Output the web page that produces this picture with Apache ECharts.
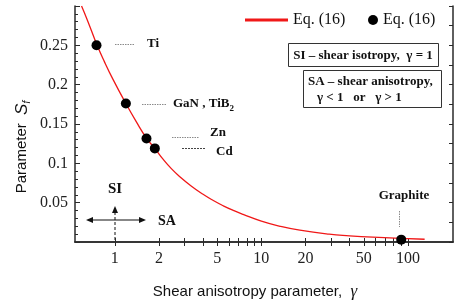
<!DOCTYPE html>
<html>
<head>
<meta charset="utf-8">
<script src="https://cdn.jsdelivr.net/npm/echarts@6/dist/echarts.min.js"></script>
<style>
html,body{margin:0;padding:0;background:#fff;}
#c{width:462px;height:307px;}
</style>
</head>
<body>
<div id="c"></div>
<script>
// Eq. (16) curve
const curveGamma = [0.593, 0.65, 0.75, 0.85, 0.97, 1.19, 1.4, 1.645, 1.875, 2.14, 2.44, 2.78, 3.3, 4.0, 4.7, 5.5, 6.5, 7.5, 10, 13.4, 18.3, 29, 40, 57.6, 90, 130];
const curveSf    = [0.300, 0.282, 0.252, 0.229, 0.207, 0.176, 0.153, 0.132, 0.119, 0.105, 0.093, 0.083, 0.0716, 0.0606, 0.0527, 0.046, 0.0398, 0.0351, 0.0265, 0.0200, 0.0150, 0.0100, 0.0079, 0.0061, 0.0045, 0.0035];
// Eq. (16) points (Ti, GaN/TiB2, Zn, Cd, Graphite)
const pointNames = ['Ti', 'GaN , TiB2', 'Zn', 'Cd', 'Graphite'];
const pointGamma = [0.75, 1.19, 1.645, 1.875, 90];
const pointSf    = [0.25, 0.176, 0.1316, 0.119, 0.003];
// tick labels
const xTickLabels = [1, 2, 5, 10, 20, 50, 100];
const xMinorTicks = [1, 2, 3, 4, 5, 6, 7, 8, 9, 10, 20, 30, 40, 50, 60, 70, 80, 90, 100];
const yTickLabels = [0.05, 0.1, 0.15, 0.2, 0.25];

const serif = '"Liberation Serif", "DejaVu Serif", serif';
const sans = '"Liberation Sans", Arial, sans-serif';
const frameColor = '#2a2a2a';

const chart = echarts.init(document.getElementById('c'), null, {renderer: 'canvas'});

const curveData = curveGamma.map((g, i) => [g, curveSf[i]]);
const pointData = pointGamma.map((g, i) => ({name: pointNames[i], value: [g, pointSf[i]]}));

function leader(x1, y1, x2, y2, dash, color) {
  return {type: 'line', silent: true, z: 50,
    shape: {x1, y1, x2, y2},
    style: {stroke: color || '#8a8a8a', lineWidth: 1, lineDash: dash || [1.5, 1]}};
}
function label(text, x, y, size, align) {
  return {type: 'text', silent: true, z: 50, x, y,
    style: {text, fill: '#111', font: 'bold ' + (size || 13) + 'px ' + serif,
      align: align || 'left', verticalAlign: 'middle'}};
}

const option = {
  animation: false,
  backgroundColor: '#fff',
  grid: {left: 75, right: 9, top: 6, bottom: 65, containLabel: false},
  legend: [
    {data: [{name: 'curve', icon: 'rect'}], left: 240, top: 7, itemWidth: 43, itemHeight: 3, itemGap: 0,
      formatter: () => 'Eq. (16)', selectedMode: false,
      textStyle: {fontFamily: serif, fontSize: 16, color: '#111'}},
    {data: [{name: 'points', icon: 'circle'}], left: 363, top: 7, itemWidth: 10, itemHeight: 10,
      formatter: () => 'Eq. (16)', selectedMode: false,
      itemStyle: {opacity: 1, color: '#000'},
      textStyle: {fontFamily: serif, fontSize: 16, color: '#111'}}
  ],
  xAxis: [
    {type: 'log', logBase: 10, min: 0.535, max: 203, position: 'bottom',
      axisLine: {show: true, lineStyle: {color: frameColor, width: 1.5}},
      axisTick: {show: true, inside: true, length: 4, customValues: xMinorTicks,
        lineStyle: {color: frameColor, width: 1}},
      axisLabel: {show: true, customValues: xTickLabels, margin: 9,
        fontFamily: serif, fontSize: 16, color: '#222'},
      splitLine: {show: false}, minorTick: {show: false}},
    {type: 'log', logBase: 10, min: 0.535, max: 203, position: 'top',
      axisLine: {show: true, lineStyle: {color: frameColor, width: 1.5}},
      axisTick: {show: true, inside: true, length: 4, customValues: xMinorTicks,
        lineStyle: {color: frameColor, width: 1}},
      axisLabel: {show: false, customValues: xTickLabels}, splitLine: {show: false}}
  ],
  yAxis: [
    {type: 'value', min: 0, max: 0.3, interval: 0.05, position: 'left',
      axisLine: {show: true, lineStyle: {color: frameColor, width: 1.5}},
      axisTick: {show: true, inside: true, length: 5, lineStyle: {color: frameColor}},
      minorTick: {show: true, splitNumber: 5, length: 3, lineStyle: {color: frameColor}},
      axisLabel: {margin: 7, fontFamily: serif, fontSize: 16, color: '#222',
        formatter: v => (yTickLabels.some(t => Math.abs(t - v) < 1e-9) ? String(+v.toFixed(2)) : '')},
      splitLine: {show: false}},
    {type: 'value', min: 0, max: 0.3, interval: 0.025, position: 'right',
      axisLine: {show: true, lineStyle: {color: frameColor, width: 1.5}},
      axisTick: {show: true, inside: true, length: 4, lineStyle: {color: frameColor}},
      axisLabel: {show: false}, splitLine: {show: false}}
  ],
  series: [
    {name: 'curve', type: 'line', data: curveData, smooth: true, symbol: 'none',
      lineStyle: {color: '#f01818', width: 1.3}, itemStyle: {color: '#f01818'},
      z: 3},
    {name: 'points', type: 'scatter', data: pointData, symbol: 'circle', symbolSize: 10,
      itemStyle: {color: '#000', opacity: 1}, z: 4},
    {name: 'topAxisHelper', type: 'line', xAxisIndex: 1, yAxisIndex: 1, data: [], silent: true}
  ],
  graphic: [
    // axis titles
    {type: 'text', silent: true, x: 255, y: 292, style: {
      text: '{a|Shear anisotropy parameter,  }{g|γ}', align: 'center', verticalAlign: 'middle',
      rich: {a: {fontFamily: sans, fontSize: 15, fill: '#111'},
             g: {fontFamily: serif, fontStyle: 'italic', fontSize: 17, fill: '#111'}}}},
    {type: 'text', silent: true, x: 22, y: 147, rotation: Math.PI / 2, style: {
      text: '{a|Parameter  }{s|S}{f|f}', align: 'center', verticalAlign: 'middle',
      rich: {a: {fontFamily: sans, fontSize: 15, fill: '#111', lineHeight: 20},
             s: {fontFamily: sans, fontStyle: 'italic', fontSize: 17, fill: '#111', lineHeight: 20},
             f: {fontFamily: sans, fontStyle: 'italic', fontSize: 10, fill: '#111', verticalAlign: 'bottom', lineHeight: 20}}}},
    // point annotations
    leader(115, 44.5, 135, 44.5),
    label('Ti', 147, 44),
    leader(142, 104.5, 166, 104.5),
    {type: 'text', silent: true, z: 50, x: 173, y: 104, style: {
      text: '{a|GaN , TiB}{b|2}', align: 'left', verticalAlign: 'middle',
      rich: {a: {font: 'bold 13px ' + serif, fill: '#111', lineHeight: 18},
             b: {font: 'bold 9px ' + serif, fill: '#111', verticalAlign: 'bottom', lineHeight: 18}}}},
    leader(172, 137.5, 199, 137.5),
    label('Zn', 210, 133),
    leader(182, 148.5, 205, 148.5, [2, 1], '#444'),
    label('Cd', 216, 152),
    label('Graphite', 404, 196, 13, 'center'),
    leader(399.5, 211, 399.5, 227),
    // SI / SA indicator
    label('SI', 115, 189, 15, 'center'),
    label('SA', 158, 221, 14, 'left'),
    {type: 'line', silent: true, shape: {x1: 91, y1: 220, x2: 141, y2: 220},
      style: {stroke: '#111', lineWidth: 1.2}},
    {type: 'polygon', silent: true, shape: {points: [[86, 220], [93, 217], [93, 223]]}, style: {fill: '#111'}},
    {type: 'polygon', silent: true, shape: {points: [[146, 220], [139, 217], [139, 223]]}, style: {fill: '#111'}},
    {type: 'line', silent: true, shape: {x1: 115, y1: 240, x2: 115, y2: 211},
      style: {stroke: '#111', lineWidth: 1, lineDash: [3, 2]}},
    {type: 'polygon', silent: true, shape: {points: [[115, 206], [112, 213], [118, 213]]}, style: {fill: '#111'}},
    // boxes
    {type: 'rect', silent: true, z: 40, shape: {x: 288.5, y: 43.5, width: 150, height: 23},
      style: {fill: '#fff', stroke: '#333', lineWidth: 1}},
    {type: 'text', silent: true, z: 41, x: 363, y: 55.5, style: {
      text: 'SI – shear isotropy,  γ = 1', align: 'center', verticalAlign: 'middle',
      font: 'bold 13px ' + serif, fill: '#111'}},
    {type: 'rect', silent: true, z: 40, shape: {x: 303.5, y: 70.5, width: 138, height: 37},
      style: {fill: '#fff', stroke: '#333', lineWidth: 1}},
    {type: 'text', silent: true, z: 41, x: 308, y: 81.5, style: {
      text: 'SA – shear anisotropy,', align: 'left', verticalAlign: 'middle',
      font: 'bold 13px ' + serif, fill: '#111'}},
    {type: 'text', silent: true, z: 41, x: 317, y: 97.5, style: {
      text: 'γ < 1   or   γ > 1', align: 'left', verticalAlign: 'middle',
      font: 'bold 13px ' + serif, fill: '#111'}}
  ]
};
chart.setOption(option);
</script>
</body>
</html>
